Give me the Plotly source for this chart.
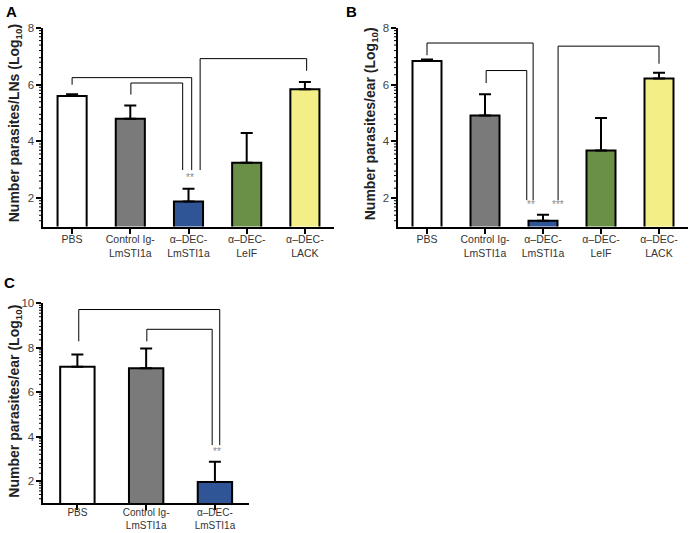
import math
import plotly.graph_objects as go

W, H = 692, 533

# ---------------- data ----------------
cats5 = ["PBS", "Control Ig-<br>LmSTI1a", "α–DEC-<br>LmSTI1a", "α–DEC-<br>LeIF", "α–DEC-<br>LACK"]
cats3 = ["PBS", "Control Ig-<br>LmSTI1a", "α–DEC-<br>LmSTI1a"]
colors5 = ["#ffffff", "#7a7a7a", "#2f5596", "#6a8f46", "#f4ee86"]
colors3 = ["#ffffff", "#7a7a7a", "#2f5596"]

a_vals = [5.60, 4.80, 1.88, 3.25, 5.84]
a_err = [0.06, 0.47, 0.45, 1.05, 0.26]

b_vals = [6.84, 4.91, 1.20, 3.68, 6.22]
b_err = [0.05, 0.75, 0.21, 1.15, 0.20]

c_vals = [7.14, 7.08, 1.96]
c_err = [0.56, 0.89, 0.91]

# significance brackets: (x_left, y_left_end, y_top, x_right, y_right_end)
a_brackets = [(0.0, 6.0, 6.25, 2.055, 2.99), (1.01, 5.65, 6.06, 1.90, 2.99), (2.20, 2.99, 6.92, 4.03, 6.49)]
b_brackets = [(0.0, 7.04, 7.47, 1.83, 1.93), (1.02, 6.06, 6.50, 1.72, 1.93), (2.26, 1.93, 7.36, 4.00, 6.74)]
c_brackets = [(0.02, 8.29, 9.72, 2.07, 3.62), (1.01, 8.29, 8.83, 1.96, 3.62)]
a_stars = [(2.03, 2.72, "**")]
b_stars = [(1.79, 1.77, "**"), (2.26, 1.77, "***")]
c_stars = [(2.03, 3.32, "**")]

# ---------------- layout helpers ----------------
def px_x(p):
    return p / W

def px_y(p):
    return 1 - p / H

FONT = "Liberation Sans Narrow, Arial Narrow, Liberation Sans, Arial, sans-serif"
YTICKFONT = dict(family="Liberation Sans, Arial, sans-serif", size=11.5, color="#444444")

def minor_vals(lo, hi):
    out = []
    base = 0
    while base < hi:
        for k in [1.5, 2, 2.5, 3, 4, 5, 6, 7, 8, 9]:
            v = base + 2 * math.log10(k)
            if lo < v < hi:
                out.append(v)
        base += 2
    return out

fig = go.Figure()

panels = [
    dict(ax="", cats=cats5, cols=colors5, vals=a_vals, err=a_err, br=a_brackets, st=a_stars,
         xd=(43, 334), yd=(28, 226.5), yr=(1, 8), major=[2, 4, 6, 8], so=-3, fs=10.5),
    dict(ax="2", cats=cats5, cols=colors5, vals=b_vals, err=b_err, br=b_brackets, st=b_stars,
         xd=(398, 688), yd=(28, 226.5), yr=(1, 8), major=[2, 4, 6, 8], so=-3, fs=10.5),
    dict(ax="3", cats=cats3, cols=colors3, vals=c_vals, err=c_err, br=c_brackets, st=c_stars,
         xd=(43, 249.3), yd=(303.3, 503.3), yr=(1, 10), major=[2, 4, 6, 8, 10], so=-6, fs=10),
]

shapes = []
annotations = []
for p in panels:
    xa = "x" + p["ax"]
    ya = "y" + p["ax"]
    n = len(p["cats"])
    fig.add_trace(go.Bar(
        x=list(range(n)), y=p["vals"], xaxis=xa, yaxis=ya,
        marker=dict(color=p["cols"], line=dict(color="black", width=2)),
        width=0.5,
        error_y=dict(type="data", symmetric=False, array=p["err"], arrayminus=[0] * n,
                     color="black", thickness=2, width=6),
        showlegend=False, hoverinfo="skip",
    ))
    fig.layout["xaxis" + p["ax"]] = dict(
        domain=[px_x(p["xd"][0]), px_x(p["xd"][1])], anchor=ya,
        range=[-0.5, n - 0.5], tickmode="array", tickvals=list(range(n)), ticktext=p["cats"],
        ticks="outside", ticklen=5, tickwidth=2, tickcolor="black", ticklabelstandoff=p["so"],
        showline=True, linecolor="black", linewidth=2, showgrid=False, zeroline=False,
        tickfont=dict(family=FONT, size=p["fs"], color="#333333"), fixedrange=True, automargin=False,
    )
    fig.layout["yaxis" + p["ax"]] = dict(
        domain=[px_y(p["yd"][1]), px_y(p["yd"][0])], anchor=xa,
        range=list(p["yr"]), tickmode="array", tickvals=p["major"],
        ticks="outside", ticklen=5, tickwidth=2, tickcolor="black", ticklabelstandoff=-1,
        showline=True, linecolor="black", linewidth=2.5, showgrid=False, zeroline=False,
        tickfont=YTICKFONT, fixedrange=True, automargin=False,
    )
    x0 = px_x(p["xd"][0])
    for v in minor_vals(p["yr"][0], p["yr"][1]):
        shapes.append(dict(type="line", xref="paper", yref=ya, x0=x0 - 4 / W, x1=x0, y0=v, y1=v,
                           line=dict(color="black", width=1)))
    for (xl, yl, yt, xr, yrr) in p["br"]:
        shapes.append(dict(type="path", xref=xa, yref=ya,
                           path=f"M {xl} {yl} L {xl} {yt} L {xr} {yt} L {xr} {yrr}",
                           line=dict(color="black", width=1)))
    for (sx, sy, t) in p["st"]:
        annotations.append(dict(x=sx, y=sy, xref=xa, yref=ya, text=t, showarrow=False,
                                font=dict(family="Liberation Sans, Arial, sans-serif", size=10, color="#8a8a8a")))

# axis titles
ytitles = [
    ("Number parasites/LNs (Log<sub>10</sub>)", 15, (20 + 226.5) / 2),
    ("Number parasites/ear (Log<sub>10</sub>)", 371, (22 + 226.5) / 2),
    ("Number parasites/ear (Log<sub>10</sub>)", 15, (300 + 503.3) / 2),
]
for t, x, y in ytitles:
    annotations.append(dict(x=px_x(x), y=px_y(y), xref="paper", yref="paper", text=f"<b>{t}</b>",
                            textangle=-90, showarrow=False, xanchor="center", yanchor="middle",
                            font=dict(family="Liberation Sans, Arial, sans-serif", size=14, color="#222222")))

for lab, x, y in [("A", 11, 12), ("B", 351, 11), ("C", 9, 282)]:
    annotations.append(dict(x=px_x(x), y=px_y(y), xref="paper", yref="paper", text=f"<b>{lab}</b>",
                            showarrow=False, xanchor="center", yanchor="middle",
                            font=dict(family="Liberation Sans, Arial, sans-serif", size=15, color="black")))

fig.update_layout(
    width=W, height=H, margin=dict(l=0, r=0, t=0, b=0, autoexpand=False),
    paper_bgcolor="white", plot_bgcolor="white",
    shapes=shapes, annotations=annotations, bargap=0.5,
)

fig.write_html(
    "out.html",
    config={"displayModeBar": False, "staticPlot": True},
    post_script="document.body.style.margin='0';document.body.style.padding='0';"
                "document.body.style.overflow='hidden';",
)
